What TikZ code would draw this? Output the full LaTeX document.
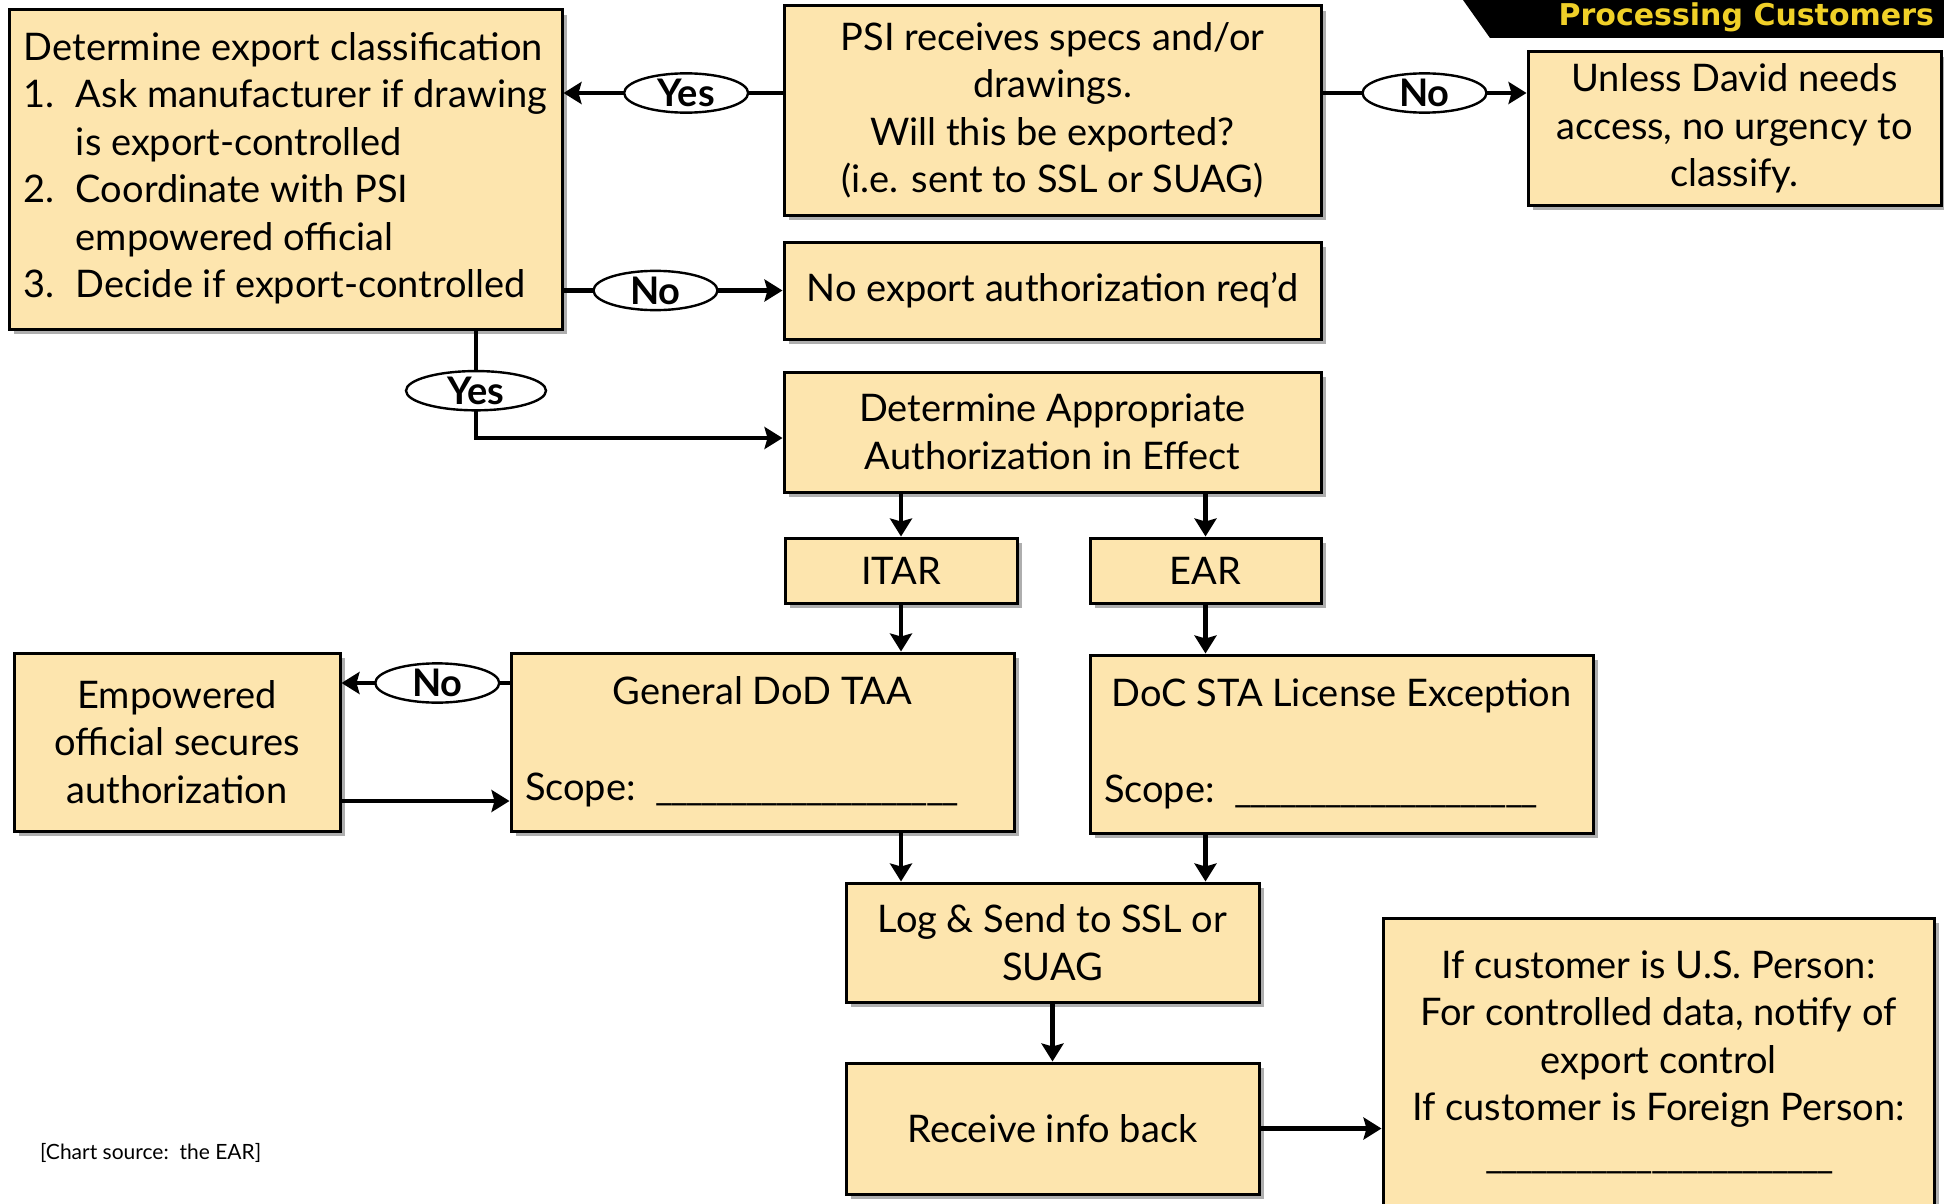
\documentclass[tikz,border=0pt]{standalone}
\usepackage{fontspec}
\setmainfont{Lato}
\newfontfamily\hdrfont{DejaVu Sans}
\usetikzlibrary{shapes.geometric,arrows.meta,positioning,shadows,calc}
\definecolor{boxfill}{RGB}{253,229,174}
\definecolor{hdryellow}{RGB}{240,208,40}
% blank to fill in: underscores run together
\newcommand{\blankline}[1]{\foreach \i in {1,...,#1}{\_\kern-1.2pt}}

\begin{document}
\begin{tikzpicture}[
    x=0.5pt, y=-0.5pt,
    box/.style={rectangle, draw, line width=1.5pt, fill=boxfill, align=center, inner sep=4pt,
        font=\fontsize{19}{23.75}\selectfont,
        drop shadow={shadow xshift=2.5pt, shadow yshift=-2.5pt, fill=black!45, opacity=.7}},
    lbl/.style={ellipse, draw, line width=1.2pt, fill=white, inner sep=0pt,
        minimum width=62pt, minimum height=17.5pt, font=\bfseries\fontsize{19}{19}\selectfont},
    arrow/.style={-{Stealth[length=9pt,width=11pt,inset=1.5pt]}, line width=2.2pt}
]
\useasboundingbox (0,0) rectangle (1944,1204);
% Header banner
\fill (1463,0) -- (1490,38) -- (1944,38) -- (1944,0) -- cycle;
\node[anchor=east, text=hdryellow, font=\hdrfont\bfseries\fontsize{15}{15}\selectfont] (hdr) at (1941,17) {Processing Customers};
% Top part
\node[box, minimum width=276.5pt, minimum height=159.5pt] (cls) at (285.5,169.5) {%
  \begin{tabular}{@{}p{26pt}@{}l@{}}
  \multicolumn{2}{@{}l@{}}{Determine export classification}\\
  1. & Ask manufacturer if drawing\\
     & is export-controlled\\
  2. & Coordinate with PSI\\
     & empowered official\\
  3. & Decide if export-controlled
  \end{tabular}};
\node[box, minimum width=268.5pt, minimum height=104.5pt] (psi) at (1052.5,110.5) {PSI receives specs and/or\\drawings.\\Will this be exported?\\(i.e. sent to SSL or SUAG)};
\node[box, minimum width=206.5pt, minimum height=76.5pt] (unless) at (1734.5,128.5) {Unless David needs\\access, no urgency to\\classify.};
\node[box, minimum width=268.5pt, minimum height=48.5pt] (noauth) at (1052.5,290.5) {No export authorization req’d};
\node[box, minimum width=268.5pt, minimum height=60pt] (det) at (1052.5,432) {Determine Appropriate\\Authorization in Effect};
% Regimes
\node[box, minimum width=116pt, minimum height=32.5pt] (itar) at (901,570.5) {ITAR};
\node[box, minimum width=115.5pt, minimum height=32.5pt] (ear) at (1205.5,570.5) {EAR};
\node[box, minimum width=163pt, minimum height=89pt] (emp) at (177,742) {Empowered\\official secures\\authorization};
\node[box, minimum width=251.5pt, minimum height=89pt] (gen) at (762.5,742) {General DoD TAA\\[24pt]Scope:\ \ \blankline{20}\hspace*{22pt}};
\node[box, minimum width=251.5pt, minimum height=89pt] (doc) at (1341.5,744) {DoC STA License Exception\\[24pt]Scope:\ \ \blankline{20}\hspace*{22pt}};
% Bottom part
\node[box, minimum width=206.5pt, minimum height=59.5pt] (log) at (1052.5,942.5) {Log \& Send to SSL or\\SUAG};
\node[box, minimum width=206.5pt, minimum height=65.5pt] (recv) at (1052.5,1128.5) {Receive info back};
\node[box, minimum width=275.5pt, minimum height=144pt] (cust) at (1658.5,1062) {If customer is U.S. Person:\\For controlled data, notify of\\export control\\If customer is Foreign Person:\\\blankline{23}};
\node[anchor=west, font=\fontsize{10.5}{12}\selectfont] (src) at (33,1153) {[Chart source:\ \ the EAR]};
% Connectors
\draw[arrow] (psi.west |- 0,93) -- node[lbl, pos=.44] (yes1) {Yes} (cls.east |- 0,93);
\draw[arrow] (psi.east |- 0,93) -- node[lbl] (no1) {No} (unless.west |- 0,93);
\draw[arrow] (cls.east |- noauth) -- node[lbl, pos=.42] (no2) {No} (noauth.west);
\draw[arrow] (cls.south -| 476,0) |- node[lbl, pos=.28, minimum width=70pt, minimum height=18.5pt] (yes2) {Yes} ([yshift=-3pt]det.west);
\draw[arrow] (det.south -| itar) -- (itar);
\draw[arrow] (det.south -| ear) -- (ear);
\draw[arrow] (itar) -- (itar |- gen.north);
\draw[arrow] (ear) -- (ear |- doc.north);
\draw[arrow] (gen.west |- 0,683) -- node[lbl, pos=.43] (no3) {No} (emp.east |- 0,683);
\draw[arrow] (emp.east |- 0,801) -- (gen.west |- 0,801);
\draw[arrow] (gen.south -| itar) -- (log.north -| itar);
\draw[arrow] (doc.south -| ear) -- (log.north -| ear);
\draw[arrow] (log) -- (recv);
\draw[arrow] (recv.east) -- (cust.west |- recv);
\end{tikzpicture}
\end{document}
